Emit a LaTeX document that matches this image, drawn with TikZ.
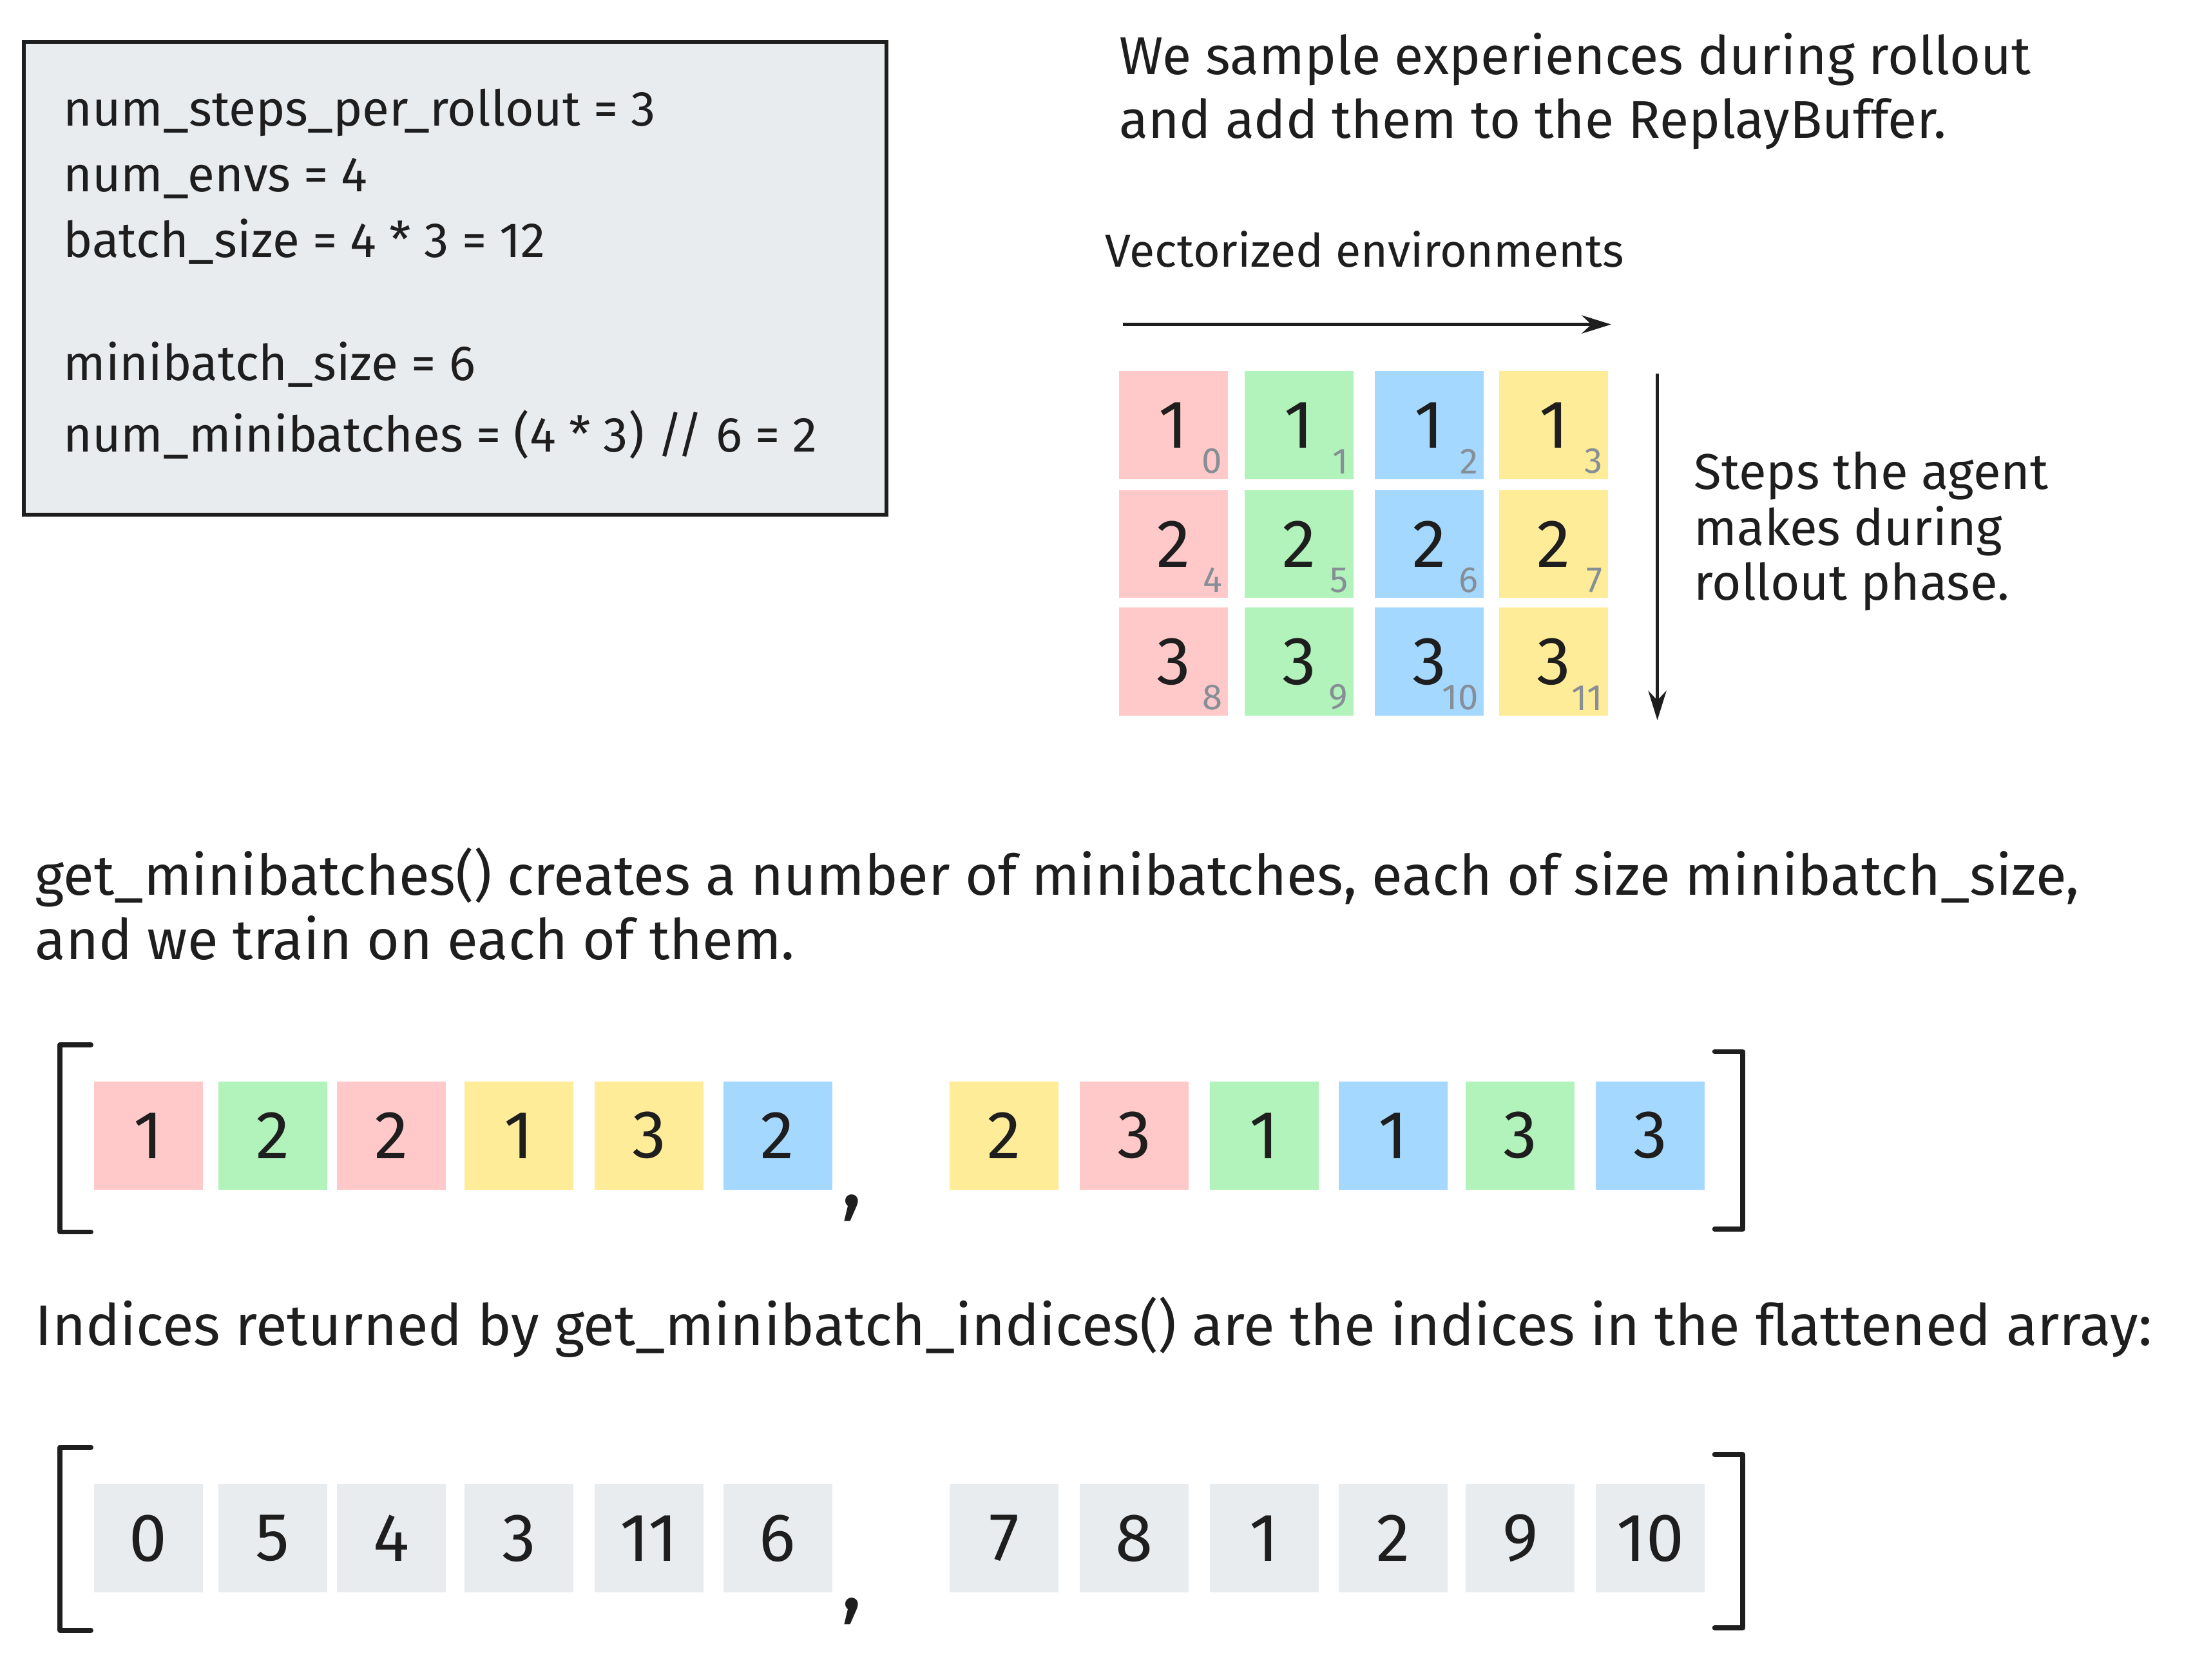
\documentclass[tikz,border=0pt]{standalone}
\usepackage{fontspec}
\setmainfont{Fira Sans}
\usetikzlibrary{arrows.meta}
\definecolor{ink}{HTML}{1E1E1E}
\definecolor{cpink}{HTML}{FFC9C9}
\definecolor{cgreen}{HTML}{B2F2BB}
\definecolor{cblue}{HTML}{A5D8FF}
\definecolor{cyellow}{HTML}{FFEC99}
\definecolor{cgray}{HTML}{E9ECEF}
\definecolor{idxgray}{HTML}{868E96}

\begin{document}
\begin{tikzpicture}[x=0.02171cm,y=-0.02171cm,
  txt/.style={anchor=base west,inner sep=0pt,text=ink,font=\fontsize{23.5}{26}\selectfont},
  longtxt/.style={txt,font=\fontsize{24.8}{28}\selectfont},
  code/.style={txt,font=\fontsize{21.8}{24}\selectfont},
  side/.style={txt,font=\fontsize{22.2}{24}\selectfont},
  cell/.style={minimum width=1.69cm,minimum height=1.68cm,inner sep=0pt,text=ink,font=\fontsize{30}{32}\selectfont},
  idx/.style={anchor=south east,inner sep=0pt,text=idxgray,font=\fontsize{16}{18}\selectfont},
  sep/.style={inner sep=0pt,text=ink,font=\fontsize{40}{40}\selectfont},
  bracket/.style={line width=2.2pt,draw=ink,line cap=round,line join=round},
  arr/.style={line width=1.6pt,draw=ink,-{Stealth[length=13pt,width=8pt]}}]
  \useasboundingbox (0,0) rectangle (1568,1201);
  % settings box
  \node[draw=ink,line width=1.8pt,fill=cgray,minimum width=13.39cm,minimum height=7.34cm] (cfg) at (325.5,199) {};
  \node[code] (l1) at (45,90) {num\_steps\_per\_rollout = 3};
  \node[code] (l2) at (45,137) {num\_envs = 4};
  \node[code] (l3) at (45,184) {batch\_size = 4 * 3 = 12};
  \node[code] (l4) at (45,272) {minibatch\_size = 6};
  \node[code] (l5) at (45,323) {num\_minibatches = (4 * 3) // 6 = 2};
  % rollout grid
  \node[txt] (t1) at (800,53) {We sample experiences during rollout};
  \node[txt] (t2) at (800,99) {and add them to the ReplayBuffer.};
  \node[txt,font=\fontsize{20.4}{24}\selectfont] (venv) at (790,191) {Vectorized environments};
  \coordinate (ha) at (803,232); \coordinate (hb) at (1152,232);
  \draw[arr] (ha) -- (hb);
  \foreach \x/\c/\col in {839/0/cpink,929/1/cgreen,1022/2/cblue,1111/3/cyellow}
    \foreach \y/\r in {304/1,389/2,473/3} {
      \pgfmathtruncatemacro\k{(\r-1)*4+\c}
      \node[cell,fill=\col] (g\r\c) at (\x,\y) {\r};
      \node[idx] (i\r\c) at ([xshift=-2.5pt,yshift=2.5pt]g\r\c.south east) {\k};
    }
  \coordinate (va) at (1185,267); \coordinate (vb) at (1185,515);
  \draw[arr] (va) -- (vb);
  \node[side] (s1) at (1211,350) {Steps the agent};
  \node[side] (s2) at (1211,390) {makes during};
  \node[side] (s3) at (1211,429) {rollout phase.};
  % minibatches
  \node[longtxt] (m0) at (25,640) {get\_minibatches() creates a number of minibatches, each of size minibatch\_size,};
  \node[longtxt] (m00) at (25,686) {and we train on each of them.};
  \foreach \x/\v/\col [count=\i] in {106/1/cpink,195/2/cgreen,280/2/cpink,371/1/cyellow,464/3/cyellow,556/2/cblue,718/2/cyellow,811/3/cpink,904/1/cgreen,996/1/cblue,1087/3/cgreen,1180/3/cblue}
    \node[cell,fill=\col] (m\i) at (\x,812) {\v};
  \node[sep] (c1) at (609,864) {,};
  \draw[bracket] (65,747) -- (43,747) -- (43,881) -- (65,881);
  \draw[bracket] (1226,752) -- (1246,752) -- (1246,879) -- (1226,879);
  % flattened indices
  \node[longtxt,font=\fontsize{25.3}{28}\selectfont] (f0) at (25,962) {Indices returned by get\_minibatch\_indices() are the indices in the flattened array:};
  \foreach \x/\v [count=\i] in {106/0,195/5,280/4,371/3,464/11,556/6,718/7,811/8,904/1,996/2,1087/9,1180/10}
    \node[cell,fill=cgray] (f\i) at (\x,1100) {\v};
  \node[sep] (c2) at (609,1152) {,};
  \draw[bracket] (65,1035) -- (43,1035) -- (43,1166) -- (65,1166);
  \draw[bracket] (1226,1040) -- (1246,1040) -- (1246,1164) -- (1226,1164);
\end{tikzpicture}
\end{document}
